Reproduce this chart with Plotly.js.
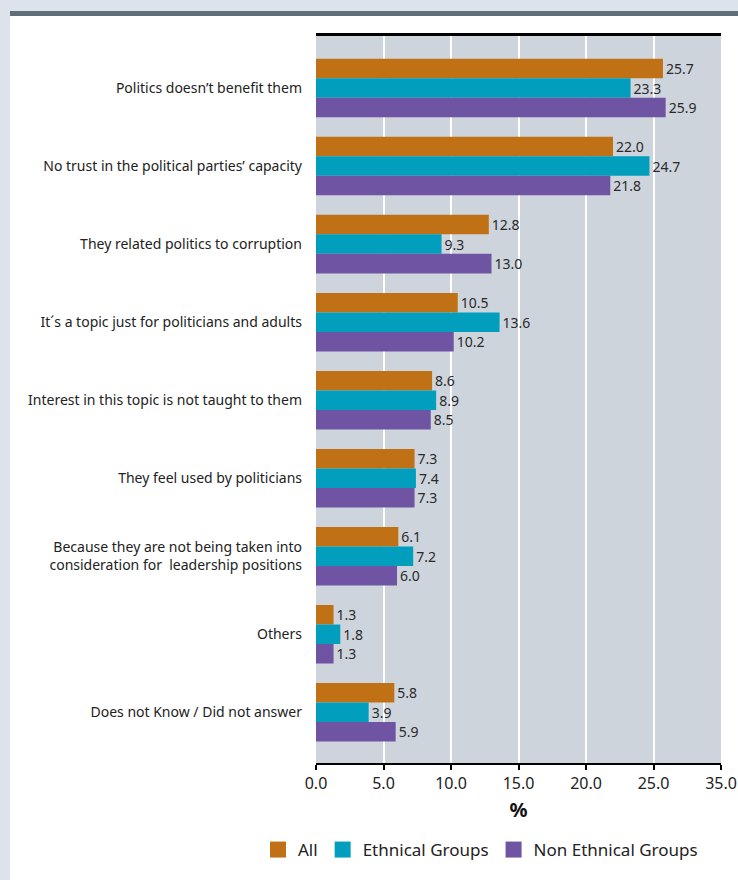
<!DOCTYPE html>
<html>
<head>
<meta charset="utf-8">
<script src="https://cdn.plot.ly/plotly-3.0.1.min.js"></script>
<style>html,body{margin:0;padding:0;background:#fff;}#chart{width:738px;height:880px;}</style>
</head>
<body>
<div id="chart"></div>
<script>
var categories = [
  "Politics doesn\u2019t benefit them",
  "No trust in the political parties\u2019 capacity",
  "They related politics to corruption",
  "It\u00b4s a topic just for politicians and adults",
  "Interest in this topic is not taught to them",
  "They feel used by politicians",
  "Because they are not being taken into<br>consideration for  leadership positions",
  "Others",
  "Does not Know / Did not answer"
];
var seriesNames = ["All", "Ethnical Groups", "Non Ethnical Groups"];
var allValues = [25.7, 22.0, 12.8, 10.5, 8.6, 7.3, 6.1, 1.3, 5.8];
var ethnicalValues = [23.3, 24.7, 9.3, 13.6, 8.9, 7.4, 7.2, 1.8, 3.9];
var nonEthnicalValues = [25.9, 21.8, 13.0, 10.2, 8.5, 7.3, 6.0, 1.3, 5.9];
var tickValues = [0, 5, 10, 15, 20, 25, 30];
var tickLabels = ["0.0", "5.0", "10.0", "15.0", "20.0", "25.0", "35.0"];

var colors = ["#c17115", "#019fbd", "#6e54a3"];
var FONT = "Noto Sans, Open Sans, sans-serif";
var seriesValues = [allValues, ethnicalValues, nonEthnicalValues];

var traces = [];
seriesValues.forEach(function (vals, i) {
  traces.push({
    type: "bar",
    orientation: "h",
    name: seriesNames[i],
    y: categories,
    x: vals,
    marker: {color: colors[i]},
    text: vals.map(function (v) { return v.toFixed(1); }),
    textposition: "outside",
    textfont: {family: FONT, size: 14, color: "#2a2a2a"},
    cliponaxis: false,
    showlegend: false,
    hoverinfo: "x+name"
  });
});
seriesNames.forEach(function (n, i) {
  traces.push({
    type: "scatter",
    mode: "markers",
    name: n,
    x: [null],
    y: [null],
    marker: {symbol: "square", size: 16, color: colors[i]},
    showlegend: true,
    hoverinfo: "skip"
  });
});

var L = 316, R = 17, T = 35, B = 117, W = 738, H = 880;
var pw = W - L - R, ph = H - T - B;
function px(x) { return (x - L) / pw; }
function py(y) { return (H - B - y) / ph; }

var layout = {
  width: W, height: H,
  margin: {l: L, r: R, t: T, b: B, pad: 0},
  paper_bgcolor: "#ffffff",
  plot_bgcolor: "#cdd4dc",
  font: {family: FONT, color: "#222"},
  barmode: "group",
  bargap: 0.25,
  bargroupgap: 0,
  xaxis: {
    range: [0, 30],
    tickvals: tickValues,
    ticktext: tickLabels,
    showgrid: true,
    gridcolor: "#ffffff",
    gridwidth: 2,
    zeroline: false,
    showline: true,
    linecolor: "#000",
    linewidth: 2,
    mirror: true,
    ticks: "outside",
    ticklen: 5,
    tickwidth: 2,
    tickcolor: "#000",
    tickfont: {family: FONT, size: 16, color: "#222"},
    title: {text: "<b>%</b>", font: {family: FONT, size: 20, color: "#111"}, standoff: 10},
    fixedrange: true
  },
  yaxis: {
    type: "category",
    range: [8.65, -0.68],
    showgrid: false,
    zeroline: false,
    showline: false,
    ticks: "",
    ticklabelstandoff: 13,
    tickfont: {family: FONT, size: 14, color: "#222"},
    fixedrange: true
  },
  legend: {
    orientation: "h",
    x: px(258), xanchor: "left",
    y: py(850), yanchor: "middle",
    font: {family: FONT, size: 17, color: "#222"},
    bgcolor: "rgba(0,0,0,0)",
    itemsizing: "trace"
  },
  shapes: [
    {type: "rect", xref: "paper", yref: "paper", x0: px(0), x1: px(10), y0: py(H), y1: py(0), fillcolor: "#dce3ea", line: {width: 0}, layer: "below"},
    {type: "rect", xref: "paper", yref: "paper", x0: px(0), x1: px(W), y0: py(11), y1: py(0), fillcolor: "#dce3ea", line: {width: 0}, layer: "below"},
    {type: "rect", xref: "paper", yref: "paper", x0: px(10), x1: px(W), y0: py(16), y1: py(11), fillcolor: "#5e6f79", line: {width: 0}, layer: "below"},
    {type: "line", xref: "paper", yref: "paper", x0: 0, x1: 1, y0: 1, y1: 1, line: {color: "#000", width: 2}, layer: "above"}
  ]
};

Plotly.newPlot("chart", traces, layout, {displayModeBar: false, staticPlot: true});
</script>
</body>
</html>
